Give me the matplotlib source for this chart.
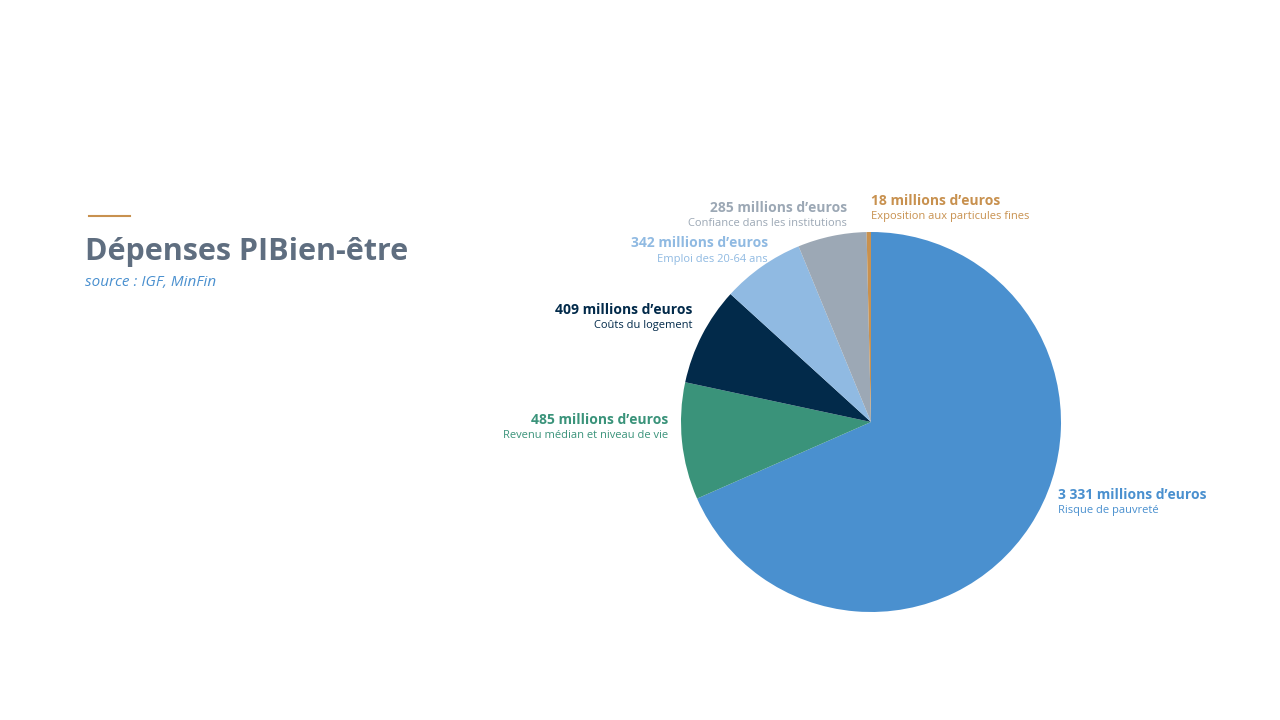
import matplotlib
matplotlib.use("Agg")
import matplotlib.pyplot as plt

categories = ["Risque de pauvreté", "Revenu médian et niveau de vie", "Coûts du logement",
              "Emploi des 20-64 ans", "Confiance dans les institutions", "Exposition aux particules fines"]
values = [3331, 485, 409, 342, 285, 18]
value_labels = ["3 331 millions d’euros", "485 millions d’euros", "409 millions d’euros",
                "342 millions d’euros", "285 millions d’euros", "18 millions d’euros"]
colors = ["#4A90CF", "#3A937A", "#022A4A", "#90BAE2", "#9CA8B5", "#C8914F"]

plt.rcParams['font.family'] = ['Open Sans', 'DejaVu Sans']
W, H = 1280, 720
fig = plt.figure(figsize=(12.8, 7.2), dpi=100)

ax = fig.add_axes([681 / W, (H - 612) / H, 380 / W, 380 / H])
ax.pie(values, colors=colors, startangle=90, counterclock=False,
       wedgeprops=dict(linewidth=0))
ax.set_xlim(-1, 1)
ax.set_ylim(-1, 1)
ax.set_aspect('equal')

pos = [(1058, 495, 'left'), (668, 420, 'right'), (692, 310, 'right'),
       (768, 243, 'right'), (847, 208, 'right'), (871, 201, 'left')]
for (x, y, ha), v, c, col in zip(pos, value_labels, categories, colors):
    fig.text(x / W, 1 - y / H, v, ha=ha, va='center', fontsize=10, fontweight='bold', color=col)
    fig.text(x / W, 1 - (y + 16) / H, c, ha=ha, va='center', fontsize=8, color=col)

fig.add_artist(plt.Line2D([89 / W, 130 / W], [1 - 216 / H] * 2, color="#C8914F", lw=1.5))
fig.text(85 / W, 1 - 252 / H, "Dépenses PIBien-être", fontsize=22, fontweight='bold',
         color="#5F6E80", va='center')
fig.text(85 / W, 1 - 283 / H, "source : IGF, MinFin", fontsize=11, style='italic',
         color="#4A90CF", va='center')

fig.savefig("out.png", dpi=100, facecolor='white')
